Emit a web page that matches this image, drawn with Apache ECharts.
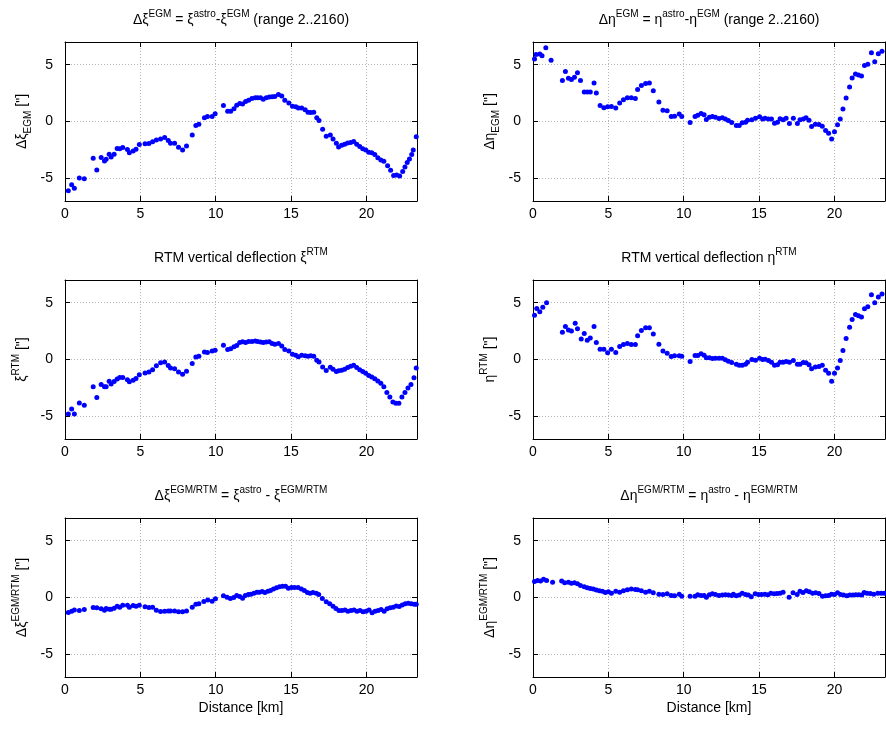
<!DOCTYPE html>
<html>
<head>
<meta charset="utf-8">
<script src="https://cdn.jsdelivr.net/npm/echarts@6/dist/echarts.min.js"></script>
<style>
  html, body { margin: 0; padding: 0; background: #fff; }
  #chart { width: 886px; height: 731px; }
</style>
</head>
<body>
<div id="chart"></div>
<script>
// axis ticks
const xTicks = [0, 5, 10, 15, 20];
const yTicks = [-5, 0, 5];
const xMax = 23.35;

// [distance km, deflection arcsec]
const dXiEgm = [[0.22,-6.09],[0.44,-5.56],[0.62,-5.88],[0.95,-4.97],[1.28,-5.03],[1.87,-3.24],[2.11,-4.26],[2.40,-3.18],[2.62,-3.47],[2.73,-3.32],[2.93,-2.88],[3.06,-3.12],[3.26,-2.88],[3.46,-2.38],[3.63,-2.41],[3.83,-2.29],[4.14,-2.47],[4.27,-2.76],[4.52,-2.59],[4.71,-2.44],[4.93,-2.03],[5.31,-1.97],[5.57,-1.94],[5.81,-1.79],[6.06,-1.62],[6.34,-1.53],[6.61,-1.41],[6.85,-1.68],[7.00,-1.91],[7.27,-1.91],[7.53,-2.26],[7.80,-2.50],[8.06,-2.15],[8.44,-1.18],[8.68,-0.35],[8.88,-0.24],[9.25,0.32],[9.45,0.44],[9.76,0.44],[9.96,0.68],[10.51,1.41],[10.79,0.91],[10.99,0.91],[11.21,1.12],[11.39,1.44],[11.59,1.59],[11.78,1.53],[11.98,1.76],[12.18,1.88],[12.40,2.03],[12.62,2.09],[12.78,2.09],[12.97,2.09],[13.15,1.97],[13.35,2.09],[13.55,2.15],[13.74,2.18],[13.92,2.21],[14.16,2.38],[14.38,2.24],[14.58,1.88],[14.85,1.62],[15.09,1.35],[15.31,1.29],[15.48,1.18],[15.70,1.18],[15.93,1.03],[16.12,0.82],[16.30,0.79],[16.50,0.82],[16.70,0.32],[16.85,0.09],[17.09,-0.68],[17.33,-1.29],[17.60,-1.18],[17.78,-1.53],[18.00,-1.91],[18.15,-2.24],[18.35,-2.1],[18.55,-2.0],[18.75,-1.9],[18.95,-1.85],[19.15,-1.75],[19.35,-2.0],[19.55,-2.2],[19.75,-2.4],[19.95,-2.5],[20.15,-2.7],[20.35,-2.75],[20.55,-2.9],[20.75,-3.2],[20.95,-3.4],[21.15,-3.5],[21.4,-3.9],[21.6,-4.3],[21.8,-4.75],[22.0,-4.7],[22.2,-4.8],[22.4,-4.4],[22.55,-4.0],[22.7,-3.6],[22.85,-3.3],[23.0,-2.9],[23.1,-2.5],[23.3,-1.35]];

const dEtaEgm = [[0.1,5.5],[0.2,5.9],[0.45,5.95],[0.6,5.8],[0.85,6.5],[1.2,5.4],[1.95,3.6],[2.15,4.4],[2.35,3.8],[2.55,3.7],[2.75,3.9],[2.95,4.3],[3.15,3.6],[3.4,2.6],[3.6,2.6],[3.8,2.6],[4.05,3.4],[4.2,2.5],[4.45,1.4],[4.7,1.2],[4.95,1.3],[5.20,1.32],[5.49,1.18],[5.75,1.62],[6.00,1.91],[6.26,2.09],[6.52,2.09],[6.79,2.03],[6.94,2.82],[7.19,3.18],[7.47,3.35],[7.72,3.38],[7.98,2.71],[8.35,1.71],[8.62,1.00],[8.90,0.94],[9.17,0.44],[9.39,0.47],[9.70,0.65],[9.87,0.44],[10.42,-0.09],[10.75,0.44],[10.93,0.56],[11.15,0.71],[11.35,0.59],[11.50,0.18],[11.70,0.38],[11.90,0.44],[12.10,0.38],[12.34,0.26],[12.56,0.32],[12.76,0.21],[12.96,0.09],[13.18,-0.09],[13.49,-0.35],[13.68,-0.35],[13.88,-0.12],[14.10,-0.06],[14.23,0.12],[14.52,0.15],[14.76,0.29],[15.03,0.41],[15.23,0.21],[15.40,0.29],[15.62,0.21],[15.82,0.21],[16.02,-0.15],[16.22,-0.06],[16.39,0.24],[16.59,0.15],[16.79,0.29],[17.01,-0.18],[17.27,0.29],[17.54,-0.18],[17.71,0.15],[17.93,0.21],[18.11,0.32],[18.31,0.12],[18.48,-0.44],[18.73,-0.24],[18.97,-0.26],[19.19,-0.41],[19.41,-0.79],[19.61,-1.03],[19.81,-1.53],[20.00,-0.91],[20.20,-0.29],[20.38,0.21],[20.56,1.09],[20.77,2.06],[21.00,3.03],[21.17,3.82],[21.39,4.18],[21.59,4.09],[21.79,4.00],[21.99,4.94],[22.21,5.03],[22.45,6.06],[22.67,5.26],[22.91,5.97],[23.15,6.18]];

const xiRtm = [[0.22,-4.79],[0.44,-4.35],[0.62,-4.79],[0.95,-3.82],[1.28,-4.03],[1.87,-2.41],[2.11,-3.35],[2.40,-2.21],[2.62,-2.41],[2.73,-2.41],[2.93,-1.91],[3.06,-2.15],[3.26,-1.94],[3.46,-1.71],[3.63,-1.59],[3.83,-1.59],[4.14,-1.79],[4.27,-1.97],[4.52,-1.82],[4.71,-1.68],[4.93,-1.35],[5.31,-1.18],[5.57,-1.09],[5.81,-0.91],[6.06,-0.56],[6.34,-0.29],[6.61,-0.21],[6.85,-0.53],[7.00,-0.74],[7.27,-0.82],[7.53,-1.09],[7.80,-1.29],[8.06,-1.03],[8.44,-0.35],[8.68,0.21],[8.88,0.29],[9.25,0.65],[9.45,0.62],[9.76,0.74],[9.96,0.82],[10.51,1.26],[10.79,0.88],[10.99,0.94],[11.21,1.12],[11.39,1.24],[11.59,1.50],[11.78,1.56],[11.98,1.50],[12.18,1.59],[12.40,1.59],[12.62,1.62],[12.78,1.59],[12.97,1.53],[13.15,1.50],[13.35,1.53],[13.55,1.56],[13.74,1.41],[13.92,1.35],[14.16,1.41],[14.38,1.18],[14.58,0.88],[14.85,0.74],[15.09,0.47],[15.31,0.38],[15.48,0.24],[15.70,0.38],[15.93,0.32],[16.12,0.29],[16.30,0.32],[16.50,0.29],[16.70,-0.06],[16.85,-0.21],[17.09,-0.65],[17.33,-0.97],[17.60,-0.68],[17.78,-0.85],[18.00,-1.06],[18.15,-1.00],[18.35,-0.95],[18.55,-0.85],[18.75,-0.7],[18.95,-0.6],[19.15,-0.5],[19.35,-0.7],[19.55,-0.9],[19.75,-1.05],[19.95,-1.2],[20.15,-1.4],[20.35,-1.55],[20.55,-1.7],[20.75,-1.9],[20.95,-2.1],[21.15,-2.4],[21.35,-2.9],[21.55,-3.3],[21.75,-3.75],[21.95,-3.85],[22.15,-3.85],[22.35,-3.3],[22.55,-2.9],[22.75,-2.5],[22.95,-2.2],[23.15,-1.6],[23.3,-0.75]];

const etaRtm = [[0.1,3.9],[0.25,4.5],[0.45,4.2],[0.65,4.6],[0.9,5.0],[1.95,2.4],[2.15,2.9],[2.35,2.6],[2.55,2.5],[2.8,3.2],[2.95,2.7],[3.2,1.8],[3.4,2.3],[3.6,1.7],[3.8,1.9],[4.05,2.9],[4.2,1.5],[4.45,0.9],[4.7,0.9],[4.95,0.6],[5.20,0.91],[5.49,0.62],[5.75,1.15],[6.00,1.32],[6.26,1.41],[6.52,1.32],[6.79,1.32],[6.94,2.09],[7.19,2.56],[7.47,2.79],[7.72,2.79],[7.98,2.24],[8.35,1.35],[8.62,0.74],[8.90,0.56],[9.17,0.26],[9.39,0.32],[9.70,0.32],[9.87,0.29],[10.42,-0.18],[10.75,0.35],[10.93,0.35],[11.15,0.50],[11.35,0.38],[11.50,0.15],[11.70,0.15],[11.90,0.09],[12.10,0.12],[12.34,0.12],[12.56,0.12],[12.76,-0.03],[12.96,-0.15],[13.18,-0.26],[13.49,-0.41],[13.68,-0.50],[13.88,-0.50],[14.10,-0.41],[14.23,-0.24],[14.52,0.00],[14.76,-0.06],[15.03,0.12],[15.23,0.00],[15.40,0.03],[15.62,-0.09],[15.82,-0.24],[16.02,-0.50],[16.22,-0.47],[16.39,-0.24],[16.59,-0.24],[16.79,-0.18],[17.01,-0.24],[17.27,-0.09],[17.54,-0.41],[17.71,-0.41],[17.93,-0.26],[18.11,-0.29],[18.31,-0.47],[18.48,-0.82],[18.73,-0.65],[18.97,-0.62],[19.19,-0.50],[19.41,-0.94],[19.61,-1.21],[19.81,-1.91],[20.00,-1.21],[20.20,-0.74],[20.38,-0.09],[20.56,0.79],[20.77,1.85],[21.00,2.85],[21.17,3.53],[21.39,3.97],[21.59,3.85],[21.79,3.74],[21.99,4.47],[22.21,4.65],[22.45,5.71],[22.67,5.00],[22.91,5.50],[23.15,5.76]];

const dXiEgmRtm = [[0.22,-1.32],[0.44,-1.21],[0.62,-1.09],[0.95,-1.15],[1.28,-1.06],[1.87,-0.88],[2.11,-0.91],[2.40,-1.00],[2.62,-1.12],[2.73,-0.97],[2.93,-1.03],[3.06,-1.03],[3.26,-0.94],[3.46,-0.76],[3.63,-0.85],[3.83,-0.68],[4.14,-0.68],[4.27,-0.85],[4.52,-0.71],[4.71,-0.76],[4.93,-0.68],[5.31,-0.82],[5.57,-0.88],[5.81,-0.85],[6.06,-1.12],[6.34,-1.24],[6.61,-1.21],[6.85,-1.18],[7.00,-1.18],[7.27,-1.18],[7.53,-1.26],[7.80,-1.26],[8.06,-1.18],[8.44,-0.85],[8.68,-0.59],[8.88,-0.56],[9.21,-0.35],[9.47,-0.21],[9.76,-0.32],[9.98,-0.12],[10.51,0.15],[10.75,0.03],[10.97,-0.09],[11.19,0.00],[11.39,0.18],[11.59,0.09],[11.78,-0.06],[11.96,0.18],[12.16,0.26],[12.33,0.29],[12.53,0.38],[12.73,0.47],[12.89,0.47],[13.08,0.53],[13.26,0.44],[13.46,0.56],[13.63,0.62],[13.83,0.74],[14.03,0.85],[14.23,0.94],[14.43,1.00],[14.63,1.00],[14.82,0.82],[15.02,0.88],[15.22,0.88],[15.46,0.88],[15.68,0.74],[15.88,0.62],[16.08,0.44],[16.26,0.38],[16.45,0.44],[16.67,0.38],[16.83,0.26],[17.07,-0.09],[17.33,-0.38],[17.56,-0.56],[17.78,-0.76],[17.97,-0.97],[18.17,-1.15],[18.37,-1.15],[18.57,-1.1],[18.77,-1.2],[18.97,-1.15],[19.17,-1.1],[19.37,-1.2],[19.57,-1.15],[19.77,-1.25],[19.97,-1.2],[20.17,-1.1],[20.37,-1.35],[20.57,-1.2],[20.77,-1.15],[20.97,-1.05],[21.17,-1.2],[21.37,-1.0],[21.57,-0.9],[21.77,-0.85],[21.97,-0.75],[22.17,-0.8],[22.37,-0.65],[22.57,-0.55],[22.77,-0.5],[22.97,-0.55],[23.17,-0.6],[23.3,-0.6]];

const dEtaEgmRtm = [[0.1,1.4],[0.3,1.5],[0.5,1.45],[0.7,1.6],[0.9,1.5],[1.3,1.35],[1.9,1.45],[2.1,1.3],[2.35,1.35],[2.55,1.25],[2.75,1.3],[2.95,1.2],[3.15,1.05],[3.4,0.95],[3.6,0.85],[3.8,0.8],[4.0,0.75],[4.2,0.65],[4.4,0.6],[4.6,0.55],[4.8,0.45],[5.0,0.5],[5.20,0.38],[5.49,0.56],[5.75,0.47],[6.00,0.59],[6.26,0.68],[6.52,0.74],[6.79,0.71],[6.94,0.68],[7.19,0.59],[7.47,0.47],[7.72,0.56],[7.98,0.41],[8.35,0.29],[8.62,0.26],[8.90,0.32],[9.17,0.18],[9.39,0.15],[9.70,0.29],[9.87,0.12],[10.42,0.12],[10.75,0.12],[10.93,0.24],[11.15,0.18],[11.35,0.18],[11.50,0.03],[11.70,0.24],[11.90,0.32],[12.10,0.26],[12.34,0.18],[12.56,0.21],[12.76,0.24],[12.96,0.21],[13.18,0.18],[13.29,0.29],[13.49,0.15],[13.68,0.21],[13.88,0.38],[14.10,0.26],[14.28,0.21],[14.48,0.06],[14.74,0.32],[14.96,0.26],[15.16,0.26],[15.38,0.29],[15.58,0.24],[15.78,0.38],[16.00,0.32],[16.19,0.35],[16.39,0.38],[16.59,0.47],[16.99,0.03],[17.25,0.41],[17.52,0.26],[17.71,0.56],[17.91,0.44],[18.13,0.59],[18.33,0.50],[18.55,0.38],[18.75,0.41],[18.97,0.35],[19.20,0.12],[19.41,0.15],[19.61,0.18],[19.80,0.29],[20.00,0.26],[20.20,0.41],[20.40,0.26],[20.60,0.21],[20.82,0.15],[21.02,0.21],[21.22,0.21],[21.41,0.24],[21.61,0.24],[21.81,0.21],[21.97,0.44],[22.16,0.38],[22.38,0.35],[22.60,0.29],[22.87,0.38],[23.09,0.38],[23.3,0.38]];

const FONT = 'Liberation Sans, Arial, sans-serif';

const rich = {
  n: {fontSize: 14, lineHeight: 22, fontFamily: FONT, color: '#000'},
  sup: {fontSize: 10, lineHeight: 12, verticalAlign: 'top', fontFamily: FONT, color: '#000'},
  sub: {fontSize: 10, lineHeight: 12, verticalAlign: 'bottom', fontFamily: FONT, color: '#000'}
};

const panels = [
  {data: dXiEgm,
   title: '{n|Δξ}{sup|EGM}{n| = ξ}{sup|astro}{n|-ξ}{sup|EGM}{n| (range 2..2160)}',
   yName: '{n|Δξ}{sub|EGM}{n| ["]}'},
  {data: dEtaEgm,
   title: '{n|Δη}{sup|EGM}{n| = η}{sup|astro}{n|-η}{sup|EGM}{n| (range 2..2160)}',
   yName: '{n|Δη}{sub|EGM}{n| ["]}'},
  {data: xiRtm,
   title: '{n|RTM vertical deflection ξ}{sup|RTM}',
   yName: '{n|ξ}{sup|RTM}{n| ["]}'},
  {data: etaRtm,
   title: '{n|RTM vertical deflection η}{sup|RTM}',
   yName: '{n|η}{sup|RTM}{n| ["]}'},
  {data: dXiEgmRtm,
   title: '{n|Δξ}{sup|EGM/RTM}{n| = ξ}{sup|astro}{n| - ξ}{sup|EGM/RTM}',
   yName: '{n|Δξ}{sup|EGM/RTM}{n| ["]}'},
  {data: dEtaEgmRtm,
   title: '{n|Δη}{sup|EGM/RTM}{n| = η}{sup|astro}{n| - η}{sup|EGM/RTM}',
   yName: '{n|Δη}{sup|EGM/RTM}{n| ["]}'}
];

const lefts = [65, 533];
const tops = [42, 280, 518];

const grids = [], xAxes = [], yAxes = [], series = [];
const black = {color: '#000', width: 1};
const gridLine = {show: true, lineStyle: {color: '#b4b4b4', width: 1, type: [1, 2]}};

panels.forEach(function(p, i) {
  const col = i % 2;
  const row = Math.floor(i / 2);
  grids.push({left: lefts[col], top: tops[row], width: 352, height: 159, show: false});

  xAxes.push({
    gridIndex: i, type: 'value', position: 'bottom', min: 0, max: xMax,
    axisLine: {show: true, onZero: false, lineStyle: black},
    axisTick: {show: true, inside: true, length: 5, customValues: xTicks, lineStyle: black},
    axisLabel: {show: true, customValues: xTicks, margin: 6, fontSize: 14, color: '#000', fontFamily: FONT},
    splitLine: gridLine,
    name: row === 2 ? 'Distance [km]' : '',
    nameLocation: 'middle', nameGap: 24,
    nameTextStyle: {fontSize: 14, color: '#000', fontFamily: FONT}
  });
  xAxes.push({
    gridIndex: i, type: 'value', position: 'top', min: 0, max: xMax,
    axisLine: {show: true, onZero: false, lineStyle: black},
    axisTick: {show: true, inside: true, length: 5, customValues: xTicks, lineStyle: black},
    axisLabel: {show: false},
    splitLine: {show: false},
    name: p.title, nameLocation: 'middle', nameGap: 11,
    nameTextStyle: {rich: rich}
  });
  yAxes.push({
    gridIndex: i, type: 'value', position: 'left', min: -7, max: 7,
    axisLine: {show: true, onZero: false, lineStyle: black},
    axisTick: {show: true, inside: true, length: 5, customValues: yTicks, lineStyle: black},
    axisLabel: {show: true, customValues: yTicks, margin: 12, fontSize: 14, color: '#000', fontFamily: FONT},
    splitLine: gridLine,
    name: p.yName, nameLocation: 'middle', nameRotate: 90, nameGap: 32,
    nameTextStyle: {rich: rich}
  });
  yAxes.push({
    gridIndex: i, type: 'value', position: 'right', min: -7, max: 7,
    axisLine: {show: true, onZero: false, lineStyle: black},
    axisTick: {show: true, inside: true, length: 5, customValues: yTicks, lineStyle: black},
    axisLabel: {show: false},
    splitLine: {show: false}
  });
  series.push({
    type: 'scatter', xAxisIndex: 2 * i, yAxisIndex: 2 * i,
    data: p.data, symbol: 'circle', symbolSize: 5,
    itemStyle: {color: '#0000ff', opacity: 1}, silent: true
  });
});

const chart = echarts.init(document.getElementById('chart'), null, {renderer: 'canvas'});
chart.setOption({
  animation: false,
  backgroundColor: '#fff',
  grid: grids,
  xAxis: xAxes,
  yAxis: yAxes,
  series: series
});
</script>
</body>
</html>
